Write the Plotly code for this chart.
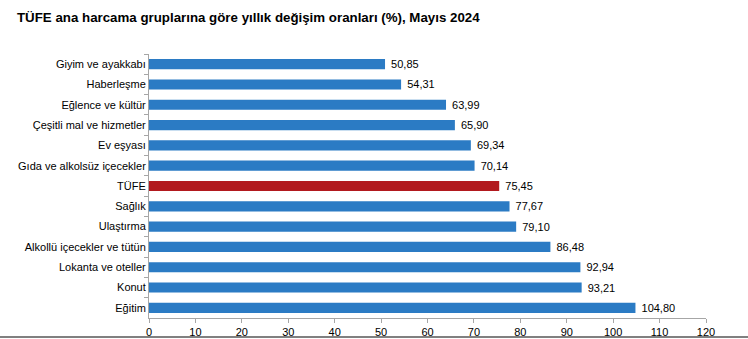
import plotly.graph_objects as go

categories = ["Giyim ve ayakkabı", "Haberleşme", "Eğlence ve kültür", "Çeşitli mal ve hizmetler",
              "Ev eşyası", "Gıda ve alkolsüz içecekler", "TÜFE", "Sağlık", "Ulaştırma",
              "Alkollü içecekler ve tütün", "Lokanta ve oteller", "Konut", "Eğitim"]
values = [50.85, 54.31, 63.99, 65.90, 69.34, 70.14, 75.45, 77.67, 79.10, 86.48, 92.94, 93.21, 104.80]
labels = [" " + f"{v:.2f}".replace(".", ",") for v in values]
colors = ["#B2191E" if c == "TÜFE" else "#2B7BC4" for c in categories]

fig = go.Figure(go.Bar(
    x=values, y=categories, orientation="h",
    marker=dict(color=colors, line=dict(width=0)),
    width=0.5,
    text=labels, textposition="outside", cliponaxis=False, constraintext="none",
    textfont=dict(family="Liberation Sans, Arial", size=11, color="#000000"),
))

L, T, W, H = 149, 54, 748, 339
pw = 706 - L
ph = 318 - T
fig.update_layout(
    width=W, height=H,
    margin=dict(l=L, r=W - 706, t=T, b=H - 318),
    plot_bgcolor="white", paper_bgcolor="white",
    showlegend=False,
    font=dict(family="Liberation Sans, Arial", size=11, color="#000000"),
    title=dict(text="<b>TÜFE ana harcama gruplarına göre yıllık değişim oranları (%), Mayıs 2024</b>",
               x=17 / W, xanchor="left", y=1 - 17 / H, yanchor="middle",
               font=dict(family="Liberation Sans, Arial", size=13.3, color="#000000")),
    xaxis=dict(range=[0, 120], dtick=10, tick0=0, showgrid=False, zeroline=False,
               showline=True, linecolor="#A6A6A6", linewidth=1, automargin=False,
               ticks="outside", ticklen=4, tickcolor="#A6A6A6",
               tickfont=dict(size=11)),
    yaxis=dict(autorange="reversed", showgrid=False, zeroline=False, automargin=False,
               showline=True, linecolor="#A6A6A6", linewidth=1,
               ticks="outside", ticklen=4, tickcolor="#A6A6A6",
               tickson="boundaries", tickfont=dict(size=11)),
    bargap=0.5,
)
fig.add_shape(type="line", xref="paper", yref="paper",
              x0=-L / pw, x1=(W - L) / pw, y0=-(337 - 318) / ph, y1=-(337 - 318) / ph,
              line=dict(color="#808080", width=2))
fig.write_html("out.html")
